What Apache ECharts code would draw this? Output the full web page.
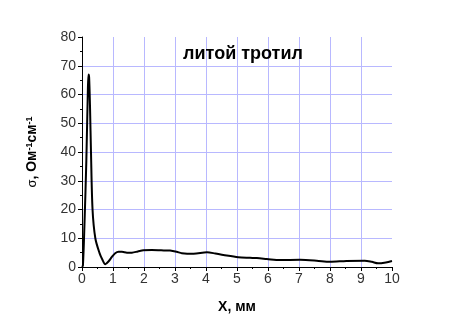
<!DOCTYPE html>
<html><head><meta charset="utf-8">
<script src="https://cdn.jsdelivr.net/npm/echarts@6/dist/echarts.min.js"></script>
<style>html,body{margin:0;padding:0;background:#fff}#c{width:456px;height:321px}</style>
</head><body><div id="c"></div>
<script>
const xValues = [0, 0.03, 0.08, 0.14, 0.19, 0.21, 0.23, 0.26, 0.29, 0.34, 0.43, 0.56, 0.66, 0.75, 0.86, 0.97, 1.07, 1.18, 1.29, 1.45, 1.61, 1.8, 1.98, 2.25, 2.55, 2.84, 3.05, 3.22, 3.6, 4.03, 4.3, 4.56, 5.04, 5.42, 5.64, 5.96, 6.39, 7.03, 7.57, 8.0, 8.53, 9.12, 9.35, 9.55, 9.8, 10.0];
const sigma   = [0, 0.5, 15, 37, 62, 67, 66, 55, 40, 20, 10, 5, 2.5, 1.0, 2.0, 3.6, 4.8, 5.3, 5.3, 5.0, 5.0, 5.4, 5.8, 5.9, 5.8, 5.7, 5.3, 4.8, 4.6, 5.1, 4.7, 4.2, 3.4, 3.2, 3.1, 2.8, 2.4, 2.5, 2.2, 1.8, 2.1, 2.2, 1.8, 1.3, 1.6, 2.1];
const titleText = 'литой тротил';
const xName = 'X, мм';
const chart = echarts.init(document.getElementById('c'), null, {renderer: 'canvas'});
const gridColor = '#b8b8ff';
chart.setOption({
  animation: false,
  backgroundColor: '#fff',
  title: {text: titleText, left: 238, top: 40, textAlign: 'center',
    textStyle: {fontFamily: 'Liberation Sans', fontWeight: 'bold', fontSize: 18, color: '#000'}},
  grid: {left: 82, right: 64, top: 37, bottom: 54, containLabel: false},
  xAxis: {type: 'value', min: 0, max: 10, interval: 1,
    name: xName, nameLocation: 'middle', nameGap: 33,
    nameTextStyle: {fontFamily: 'Liberation Sans', fontWeight: 'bold', fontSize: 14, color: '#000'},
    axisLine: {lineStyle: {color: '#000', width: 1}},
    axisTick: {inside: false, length: 4, lineStyle: {color: '#000'}},
    minorTick: {show: true, splitNumber: 2, length: 2, lineStyle: {color: '#000'}},
    axisLabel: {fontFamily: 'Liberation Sans', fontSize: 14, color: '#333', margin: 5},
    splitLine: {show: true, showMinLine: false, showMaxLine: false, lineStyle: {color: gridColor, width: 1}}},
  yAxis: {type: 'value', min: 0, max: 80, interval: 10,
    name: '{g|σ}{a|, Ом}{s|-1}{a|см}{s|-1}', nameLocation: 'middle', nameGap: 42, nameRotate: 90,
    nameTextStyle: {rich: {
      g: {fontFamily: 'Liberation Sans', fontSize: 13, color: '#000'},
      a: {fontFamily: 'Liberation Sans', fontWeight: 'bold', fontSize: 14, color: '#000'},
      s: {fontFamily: 'Liberation Sans', fontWeight: 'bold', fontSize: 9, color: '#000', verticalAlign: 'top', padding: [0,0,6,0]}
    }},
    axisLine: {show: true, lineStyle: {color: '#000', width: 1}},
    axisTick: {show: true, inside: false, length: 4, lineStyle: {color: '#000'}},
    minorTick: {show: true, splitNumber: 2, length: 2, lineStyle: {color: '#000'}},
    axisLabel: {fontFamily: 'Liberation Sans', fontSize: 14, color: '#333', margin: 6},
    splitLine: {show: true, showMinLine: false, showMaxLine: false, lineStyle: {color: gridColor, width: 1}}},
  series: [{type: 'line', data: xValues.map((x, i) => [x, sigma[i]]), smooth: 0.3, showSymbol: false,
    lineStyle: {color: '#000', width: 2}}]
});
</script></body></html>
